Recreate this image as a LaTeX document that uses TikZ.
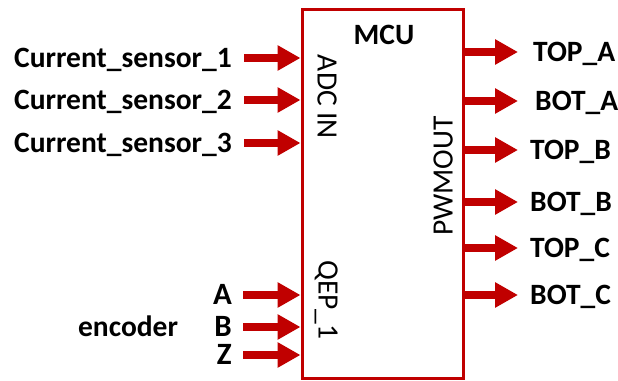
\documentclass[tikz,border=0pt]{standalone}
\usepackage{fontspec}
\setmainfont{Carlito}
\usetikzlibrary{arrows.meta,positioning}

\definecolor{mcured}{HTML}{C00000}

\tikzset{
	mcubox/.style={draw=mcured, line width=3pt, minimum width=161pt, minimum height=368pt, inner sep=0pt},
	sig/.style={draw=mcured, line width=7.5pt, -{Triangle[length=23pt,width=24pt]}},
	lbl/.style={font=\fontsize{29.5}{34}\selectfont\bfseries, inner sep=0pt, text height=19pt, text depth=0pt},
	abz/.style={lbl, font=\fontsize{31}{36}\selectfont\bfseries},
	pinlbl/.style={font=\fontsize{29.5}{34}\selectfont, inner sep=0pt, text height=19pt, text depth=0pt},
}

\begin{document}
\begin{tikzpicture}[x=1pt,y=1pt]
	\useasboundingbox (0,0) rectangle (618,380);
	
	% 1. MCU block and its pin groups
	\node [mcubox] (mcu) at (382.5,186) {};
	\node [lbl] (title) at (384,345) {MCU};
	\node [pinlbl, rotate=-90] (adc) at (327,283) {ADC IN};
	\node [pinlbl, rotate=-90] (qep) at (328,80) {QEP\_1};
	\node [pinlbl, rotate=90] (pwm) at (443,204) {PWMOUT};
	
	% 2. current sensor inputs
	\coordinate (i1) at (244,322);
	\coordinate (i2) at (244,280);
	\coordinate (i3) at (244,237);
	\node [lbl, left=12pt of i1] (cs1) {Current\_sensor\_1};
	\node [lbl, left=12pt of i2] (cs2) {Current\_sensor\_2};
	\node [lbl, left=12pt of i3] (cs3) {Current\_sensor\_3};
	\draw [sig] (i1) -- (i1 -| mcu.west);
	\draw [sig] (i2) -- (i2 -| mcu.west);
	\draw [sig] (i3) -- (i3 -| mcu.west);
	
	% 3. encoder inputs
	\coordinate (ea) at (243,85);
	\coordinate (eb) at (243,53);
	\coordinate (ez) at (243,25);
	\node [abz, left=11pt of ea] (a) {A};
	\node [abz, left=11pt of eb] (b) {B};
	\node [abz, left=11pt of ez] (z) {Z};
	\node [lbl, left=36pt of b] (enc) {encoder};
	\draw [sig] (ea) -- (ea -| mcu.west);
	\draw [sig] (eb) -- (eb -| mcu.west);
	\draw [sig] (ez) -- (ez -| mcu.west);
	
	% 4. PWM outputs
	\coordinate (o1) at (518,328);
	\coordinate (o2) at (518,279);
	\coordinate (o3) at (518,230);
	\coordinate (o4) at (518,178);
	\coordinate (o5) at (518,132);
	\coordinate (o6) at (518,85);
	\draw [sig] (mcu.east |- o1) -- (o1);
	\draw [sig] (mcu.east |- o2) -- (o2);
	\draw [sig] (mcu.east |- o3) -- (o3);
	\draw [sig] (mcu.east |- o4) -- (o4);
	\draw [sig] (mcu.east |- o5) -- (o5);
	\draw [sig] (mcu.east |- o6) -- (o6);
	\node [lbl, right=15pt of o1] (topa) {TOP\_A};
	\node [lbl, right=17pt of o2] (bota) {BOT\_A};
	\node [lbl, right=12pt of o3] (topb) {TOP\_B};
	\node [lbl, right=12pt of o4] (botb) {BOT\_B};
	\node [lbl, right=12pt of o5] (topc) {TOP\_C};
	\node [lbl, right=12pt of o6] (botc) {BOT\_C};
\end{tikzpicture}
\end{document}
